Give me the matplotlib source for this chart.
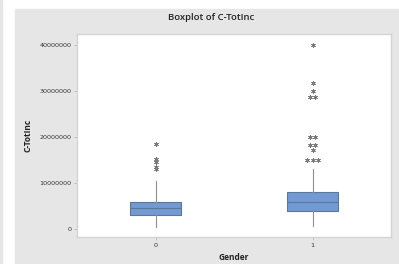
# boxplot of C-TotInc by gender, minitab style
import numpy as np
import matplotlib.pyplot as plt
from matplotlib.patches import Rectangle
from matplotlib.ticker import FuncFormatter

# data
genders = ['0', '1']
q1 = [2980000, 3850000]
medians = [4500000, 5800000]
q3 = [5930000, 8000000]
whisk_lo = [430000, 600000]
whisk_hi = [10400000, 13000000]
outliers_0 = [18500000, 15200000, 14500000, 13400000, 13000000]
outliers_1 = [40000000, 31800000, 30000000, 28800000, 28800000,
              20000000, 20000000, 18200000, 18200000, 17100000,
              14900000, 14900000, 14900000]
yticks = [0, 10000000, 20000000, 30000000, 40000000]

fig = plt.figure(figsize=(3.99, 2.64), dpi=100)
fig.patch.set_facecolor('white')
# grey panel behind the chart, minitab window look
fig.patches.append(Rectangle((15/399, 0), 1 - 15/399, 1 - 9/264,
                             transform=fig.transFigure, color='#e6e6e6', zorder=-2))
fig.patches.append(Rectangle((0, 0), 2/399, 1, transform=fig.transFigure,
                             color='#e6e6e6', zorder=-2))

ax = fig.add_axes([77/399, 1 - 237/264, (391 - 77)/399, (237 - 34)/264])
ax.set_facecolor('white')

stats = []
for i in range(len(genders)):
    stats.append(dict(label=genders[i], q1=q1[i], med=medians[i], q3=q3[i],
                      whislo=whisk_lo[i], whishi=whisk_hi[i], fliers=[]))

ax.bxp(stats, positions=range(len(genders)), widths=0.33, patch_artist=True,
       showcaps=False, showfliers=False,
       boxprops=dict(facecolor='#7399d2', edgecolor='#5a779c', linewidth=0.8),
       medianprops=dict(color='#5a779c', linewidth=0.8),
       whiskerprops=dict(color='#909090', linewidth=0.8))

# outliers, duplicates placed side by side like minitab does
for pos, outs in enumerate([outliers_0, outliers_1]):
    vals, counts = np.unique(outs, return_counts=True)
    for v, k in zip(vals, counts):
        xs = pos + (np.arange(k) - (k - 1) / 2) * 0.036
        ax.plot(xs, [v] * k, linestyle='none', marker=(6, 2, 0),
                markersize=3.4, color='#7a7a7a', markeredgewidth=0.5)

ax.set_xlim(-0.5, 1.5)
ax.set_ylim(-1740000, 42390000)
ax.set_yticks(yticks)
ax.yaxis.set_major_formatter(FuncFormatter(lambda v, p: '%d' % v))
ax.set_xticks(range(len(genders)))
ax.set_xticklabels(genders)
ax.tick_params(labelsize=4.6, colors='#b0b0b0', labelcolor='#333333',
               length=2, width=0.5, pad=2)
for s in ax.spines.values():
    s.set_color('#d4d4d4')
    s.set_linewidth(1)

ax.set_ylabel('C-TotInc', fontsize=6, fontweight='bold', family='Open Sans',
              color='#222222', labelpad=5)
ax.set_xlabel('Gender', fontsize=6, fontweight='bold', family='Open Sans',
              color='#222222', labelpad=4)
fig.text(211/399, 1 - 17/264, 'Boxplot of C-TotInc', fontsize=6.8,
         fontweight='semibold', family='Open Sans', color='#222222',
         ha='center', va='center')

plt.savefig('out.png', dpi=100)
